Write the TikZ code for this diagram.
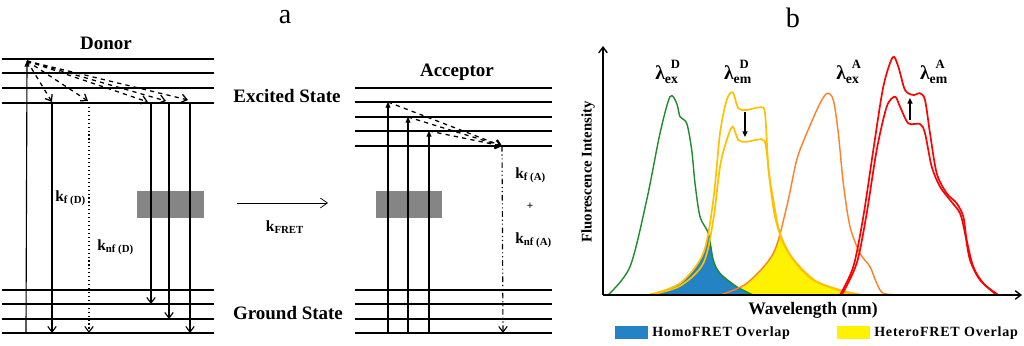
\documentclass[tikz,border=0pt]{standalone}
\usepackage{fontspec}
\setmainfont{Liberation Serif}
\newfontfamily\widefont[LetterSpace=5.5]{Liberation Serif}
\usetikzlibrary{arrows.meta}

\definecolor{dgreen}{HTML}{1E8C2E}
\definecolor{amber}{HTML}{FFC000}
\definecolor{dorange}{HTML}{FF7F27}
\definecolor{homoblue}{HTML}{2383C4}
\definecolor{boxgray}{HTML}{858585}

\tikzset{
  level/.style={line width=0.8pt},
  decay/.style={line width=0.8pt, -{Straight Barb[length=4pt,width=6pt]}},
  excite/.style={line width=0.8pt, -{Triangle[length=4pt,width=3.5pt]}},
  relax/.style={dashed, line width=0.9pt, -{Straight Barb[length=4pt,width=6pt]}},
  lbl/.style={font=\fontsize{13.5}{16}\selectfont\bfseries},
  klbl/.style={font=\fontsize{11}{13}\selectfont\bfseries, anchor=west, inner sep=0pt},
  lam/.style={font=\fontsize{14}{16}\selectfont\bfseries, anchor=base, inner sep=0pt},
  spec/.style={line width=1pt},
  legend/.style={font=\widefont\fontsize{10}{12}\selectfont\bfseries, anchor=west, inner sep=0pt}
}

\newcommand{\lamlbl}[2]{λ\rlap{\hspace{0.3em}\raisebox{8.5pt}{\fontsize{9}{9}\selectfont #2}}\textsubscript{#1}}

\begin{document}
\begin{tikzpicture}[x=0.025cm, y=-0.025cm]
    \useasboundingbox (0,0) rectangle (1024,346);

    % Panel letters
    \node[font=\fontsize{20}{22}\selectfont] (pa) at (285,17) {a};
    \node[font=\fontsize{20}{22}\selectfont] (pb) at (793,18) {b};

    % ---------- Panel a: energy levels ----------
    \foreach \y in {59,73,88,103,290,304,319,333} {
        \draw[level] (2,\y) -- (214,\y);
    }
    \foreach \y in {88,102,117,131,146,290,304,319,333} {
        \draw[level] (355,\y) -- (552,\y);
    }

    % Gray boxes
    \fill[boxgray] (137,191) rectangle (204,218);
    \fill[boxgray] (376,191) rectangle (442,218);

    % Titles
    \node[lbl] (donor) at (106,43) {Donor};
    \node[lbl] (acceptor) at (457,72) {Acceptor};
    \node[lbl] (excited) at (287,96) {Excited State};
    \node[lbl] (ground) at (288,313) {Ground State};

    % Donor: excitation and relaxation
    \coordinate (dtop) at (27,61);
    \draw[excite] (26,333) -- (dtop);
    \foreach \x/\y in {52/102, 88/101, 148/102, 166/101, 188/100} {
        \draw[relax] (dtop) -- (\x,\y);
    }
    \draw[decay] (52,103) -- (52,333);
    \draw[decay, dotted] (89,103) -- (89,333);
    \foreach \x/\y in {151/304, 169/319, 190/333} {
        \draw[decay] (\x,103) -- (\x,\y);
    }
    \node[klbl] (kfd) at (55,198) {k\textsubscript{f (D)}};
    \node[klbl] (knfd) at (97,247) {k\textsubscript{nf (D)}};

    % Energy transfer
    \coordinate (fretA) at (237,203);
    \coordinate (fretB) at (328,203);
    \draw[line width=0.5pt, -{Straight Barb[length=5pt,width=7pt]}] (fretA) -- (fretB);
    \node[klbl, anchor=center] (kfret) at (285,227) {k\textsubscript{FRET}};

    % Acceptor: excitation and relaxation
    \coordinate (atop) at (502,146);
    \coordinate (abot) at (503,333);
    \foreach \x/\y in {388/102, 408/117, 429/131} {
        \draw[excite] (\x,333) -- (\x,\y);
        \draw[relax] (\x,\y) -- (atop);
    }
    \draw[decay, dash pattern=on 4pt off 2pt on 0.8pt off 2pt on 0.8pt off 2pt] (atop) -- (abot);
    \node[klbl] (kfa) at (515,175) {k\textsubscript{f (A)}};
    \node[font=\fontsize{8}{9}\selectfont\bfseries] (plus) at (530,206) {+};
    \node[klbl] (knfa) at (515,240) {k\textsubscript{nf (A)}};

    % ---------- Panel b: spectra ----------
    \path[save path=\pgreen] plot[smooth] coordinates {(608,295) (630,266.7) (646.7,200) (660,133.3) (670,96.7) (676.7,103.3) (680,116.7) (686.7,123.3) (691.7,150) (695,183.3) (700,216.7) (708.3,233.3) (713.3,260) (720,273.3) (736.7,286.7) (753.3,295)};
    \path[save path=\pyelA] plot[smooth] coordinates {(648.3,295) (680,283.3) (703.3,253.3) (713.3,200) (720,133.3) (726.7,100) (732.7,92.3) (738.3,108.3) (746.7,110) (760,107.3) (765,113.3) (768.3,166.7) (773.3,200) (780,233.3) (793.3,260) (813.3,280) (840,290) (861.7,295)};
    \path[save path=\pyelB] plot[smooth] coordinates {(650,295) (680,286) (703.3,263.3) (713.3,220) (720,166.7) (726.7,140) (732.7,126.7) (738.3,140) (746.7,141.7) (761.7,139.3) (766,146.7) (770,183.3) (775,216.7) (783.3,243.3) (796.7,263.3) (816.7,281.7) (843.3,291.7) (860,295)};
    \path[save path=\porange] plot[smooth] coordinates {(720,295) (746.7,283.3) (773.3,253.3) (786.7,206.7) (796.7,160) (806.7,133.3) (820,103.3) (827.3,93.3) (833.3,100) (838.3,133.3) (843.3,183.3) (850,226.7) (860,253.3) (870,266.7) (876.7,283.3) (883.3,293.3) (900,295)};
    \path[save path=\predA] plot[smooth] coordinates {(840,295) (853.3,266.7) (863.3,216.7) (873.3,150) (883.3,86.7) (892.7,57.3) (898.3,66.7) (905,90) (913.3,95) (920,93.3) (925,100) (930,133.3) (936.7,173.3) (946.7,193.3) (956.7,203.3) (963.3,216.7) (966.7,240) (973.3,266.7) (983.3,283.3) (998.3,295)};
    \path[save path=\predB] plot[smooth] coordinates {(841.7,295) (856.7,263.3) (866.7,213.3) (876.7,150) (886.7,106.7) (895,96.7) (900,106.7) (908.3,123.3) (920,124) (925,133.3) (931.7,166.7) (940,186.7) (950,200) (960,213.3) (965,233.3) (970,260) (980,280) (996.7,295)};

    % Overlap areas
    \begin{scope}
        \path[use path=\porange, clip];
        \path[use path=\pyelA, fill=yellow];
    \end{scope}
    \begin{scope}
        \path[use path=\pgreen, clip];
        \path[use path=\pyelA, fill=homoblue];
    \end{scope}

    % Curves
    \path[use path=\pgreen, draw=dgreen, spec];
    \path[use path=\porange, draw=dorange, spec];
    \path[use path=\pyelA, draw=amber, line width=1.2pt];
    \path[use path=\pyelB, draw=amber, line width=1.2pt];
    \path[use path=\predA, draw=red, line width=1.2pt];
    \path[use path=\predB, draw=red, line width=1.2pt];

    % Intensity changes
    \draw[line width=1pt, -{Triangle[length=4pt,width=3.5pt]}] (745,112) -- (745,137);
    \draw[line width=1pt, -{Triangle[length=4pt,width=3.5pt]}] (910,120) -- (910,98);

    % Axes
    \coordinate (origin) at (603,295);
    \coordinate (xend) at (1022,295);
    \coordinate (yend) at (603,46);
    \draw[line width=1pt, -{Straight Barb[length=4pt,width=6pt]}] (origin) -- (xend);
    \draw[line width=1pt, -{Straight Barb[length=4pt,width=6pt]}] (origin) -- (yend);
    \node[font=\fontsize{10.5}{12}\selectfont\bfseries, rotate=90] (ylab) at (588,172) {Fluorescence Intensity};
    \node[font=\fontsize{12.5}{14}\selectfont\bfseries] (xlab) at (813,310) {Wavelength (nm)};

    % Peak labels
    \node[lam] (exd) at (667,80) {\lamlbl{ex}{D}};
    \node[lam] (emd) at (738,80) {\lamlbl{em}{D}};
    \node[lam] (exa) at (848,80) {\lamlbl{ex}{A}};
    \node[lam] (ema) at (934,80) {\lamlbl{em}{A}};

    % Legend
    \fill[homoblue] (615,326) rectangle (648,339);
    \node[legend] (homo) at (652,333) {HomoFRET Overlap};
    \fill[yellow] (837,326) rectangle (870,339);
    \node[legend] (hetero) at (874,333) {HeteroFRET Overlap};
\end{tikzpicture}
\end{document}
